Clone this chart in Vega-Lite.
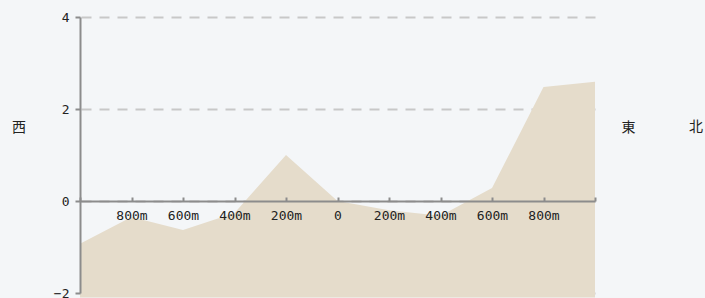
{
  "$schema": "https://vega.github.io/schema/vega-lite/v6.json",
  "width": 515,
  "height": 276,
  "autosize": "none",
  "padding": {"left": 80, "top": 17, "right": 110, "bottom": 5},
  "background": "#f4f6f8",
  "config": {"view": {"stroke": null}},
  "data": {
    "values": [
      {"d": -1000, "v": -0.93},
      {"d": -800, "v": -0.35},
      {"d": -600, "v": -0.63},
      {"d": -400, "v": -0.26},
      {"d": -200, "v": 1.0},
      {"d": 0, "v": 0.0},
      {"d": 200, "v": -0.2},
      {"d": 400, "v": -0.32},
      {"d": 600, "v": 0.28},
      {"d": 800, "v": 2.48},
      {"d": 1000, "v": 2.59}
    ]
  },
  "layer": [
    {
      "mark": {"type": "area", "color": "#e5dccb", "opacity": 1},
      "encoding": {
        "x": {
          "field": "d",
          "type": "quantitative",
          "scale": {"domain": [-1000, 1000], "nice": false},
          "axis": {
            "orient": "bottom",
            "offset": -92,
            "values": [-1000, -800, -600, -400, -200, 0, 200, 400, 600, 800, 1000],
            "labelExpr": "abs(datum.value) == 1000 ? '' : (datum.value == 0 ? '0' : abs(datum.value) + 'm')",
            "labelFlush": false,
            "labelOverlap": false,
            "grid": false,
            "domainColor": "#8c8c8c",
            "domainWidth": 2,
            "tickColor": "#8c8c8c",
            "tickWidth": 2,
            "tickSize": -4,
            "labelPadding": 12,
            "labelFont": "DejaVu Sans Mono",
            "labelFontSize": 13,
            "labelColor": "#222222",
            "title": "北",
            "titleAngle": 0,
            "titleX": 615.5,
            "titleY": -75,
            "titleAlign": "center",
            "titleBaseline": "middle",
            "titleFont": "Noto Sans CJK JP",
            "titleFontSize": 14,
            "titleFontWeight": "normal",
            "titleColor": "#222222",
            "zindex": 1
          }
        },
        "y": {
          "field": "v",
          "type": "quantitative",
          "scale": {"domain": [-2, 4], "nice": false, "zero": false},
          "axis": {
            "orient": "left",
            "values": [-2, 0, 2, 4],
            "grid": false,
            "domainColor": "#8c8c8c",
            "domainWidth": 2,
            "tickColor": "#8c8c8c",
            "tickWidth": 2,
            "tickSize": 5,
            "labelPadding": 6,
            "labelFont": "DejaVu Sans Mono",
            "labelFontSize": 13,
            "labelColor": "#222222",
            "title": "西",
            "titleAngle": 0,
            "titleX": -61.5,
            "titleY": 110,
            "titleAlign": "center",
            "titleBaseline": "middle",
            "titleFont": "Noto Sans CJK JP",
            "titleFontSize": 14,
            "titleFontWeight": "normal",
            "titleColor": "#222222",
            "zindex": 1
          }
        },
        "y2": {"datum": -2.1}
      }
    },
    {
      "mark": {"type": "rule", "opacity": 0},
      "encoding": {
        "y": {
          "field": "v",
          "type": "quantitative",
          "axis": {
            "orient": "right",
            "values": [-2, 0, 2, 4],
            "grid": true,
            "gridColor": "#c8c8c8",
            "gridDash": [10, 8],
            "gridWidth": 2,
            "domain": false,
            "ticks": false,
            "labels": false,
            "title": "東",
            "titleAngle": 0,
            "titleX": 33,
            "titleY": 110,
            "titleAlign": "center",
            "titleBaseline": "middle",
            "titleFont": "Noto Sans CJK JP",
            "titleFontSize": 14,
            "titleFontWeight": "normal",
            "titleColor": "#222222",
            "zindex": 0
          }
        }
      }
    }
  ],
  "resolve": {"axis": {"y": "independent"}}
}
